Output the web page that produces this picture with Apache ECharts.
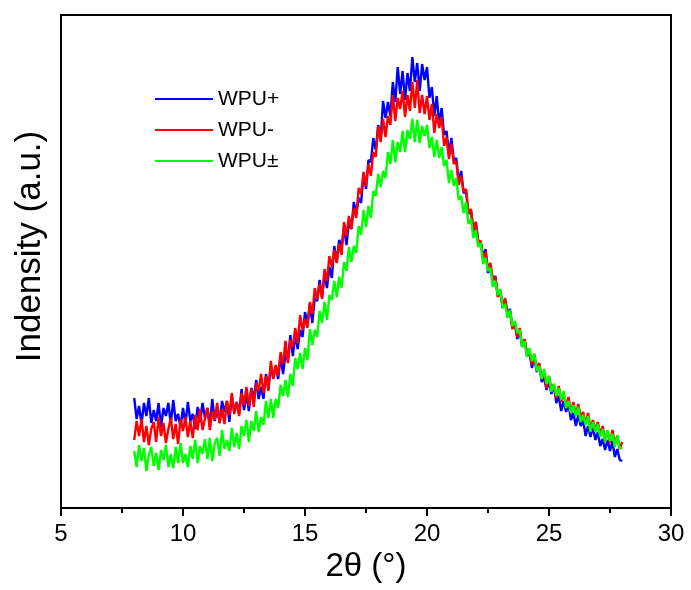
<!DOCTYPE html>
<html>
<head>
<meta charset="utf-8">
<script src="https://cdn.jsdelivr.net/npm/echarts@6/dist/echarts.min.js"></script>
<style>
html,body{margin:0;padding:0;background:#fff;}
#chart{width:691px;height:590px;}
</style>
</head>
<body>
<div id="chart"></div>
<script>
// 2θ sampling: 8.0 to 28.0 degrees in 0.1 degree steps
const thetaStart = 8.0;
const thetaStep = 0.1;
const seriesNames = ['WPU+', 'WPU-', 'WPU\u00b1'];
const xTicks = [5, 10, 15, 20, 25, 30];

const wpuPlus = [
110,89,102,84,105,92,110,85,98,87,
105,81,100,92,105,84,108,87,94,81,
100,84,106,87,94,79,101,86,105,90,
100,83,109,87,100,85,107,96,107,86,
112,96,106,94,119,98,113,97,120,109,
128,109,121,109,134,119,142,130,142,129,
152,134,154,148,173,152,173,159,178,171,
196,184,204,185,210,207,228,211,234,220,
241,230,262,246,268,261,281,263,286,279,
306,294,310,305,334,319,348,346,370,358,
383,369,407,390,406,392,426,406,441,414,
437,408,435,417,451,426,445,417,444,428,
441,410,421,392,412,383,400,373,377,354,
370,347,350,326,337,315,317,294,298,276,
286,267,266,251,259,235,242,228,232,213,
217,200,208,195,199,180,185,169,177,162,
168,152,156,140,150,136,144,126,130,118,
127,114,123,105,112,97,107,96,104,88,
95,82,93,82,88,72,82,71,81,68,
76,62,69,58,68,57,67,51,59,48,
47];

const wpuMinus = [
68,87,72,89,66,82,63,79,86,66,
91,72,85,65,79,90,69,84,64,89,
77,91,71,87,70,93,78,99,78,89,
100,78,97,88,105,85,99,84,107,93,
115,94,106,92,115,103,121,102,119,101,
125,117,134,115,132,117,147,129,143,132,
156,144,167,145,168,161,180,165,193,178,
189,180,206,194,220,209,224,209,239,227,
252,241,258,245,264,253,286,272,292,279,
300,290,320,314,336,322,344,332,356,351,
382,366,389,371,392,383,413,387,410,399,
417,391,413,397,426,400,428,395,413,394,
412,388,404,375,394,380,391,362,371,349,
364,344,347,323,332,316,319,295,299,278,
286,266,267,250,256,239,245,228,231,211,
217,202,210,193,197,179,184,171,180,161,
169,155,157,143,154,139,145,129,135,120,
132,119,124,110,122,106,114,103,111,95,
106,93,104,91,96,84,95,80,88,78,
86,74,82,68,76,65,78,64,72,59,
66];

const wpuPlusMinus = [
57,41,63,47,60,37,53,61,42,55,
38,58,48,63,41,54,40,61,45,65,
45,54,41,62,49,68,45,62,54,69,
49,70,47,65,70,52,78,59,68,57,
80,61,75,59,82,72,88,66,87,77,
97,76,91,83,107,90,109,90,109,100,
123,112,128,111,134,122,150,139,155,139,
160,148,179,163,178,171,197,185,206,188,
213,208,227,211,231,220,246,237,261,246,
262,255,282,273,298,281,302,290,317,312,
334,321,337,330,356,344,368,346,366,356,
377,356,378,369,389,366,388,365,382,372,
383,360,371,351,368,350,361,342,348,325,
338,322,330,308,312,295,306,284,289,270,
278,261,265,244,250,237,240,221,227,213,
219,200,204,190,198,182,187,175,178,161,
167,151,160,147,154,137,142,129,139,124,
132,116,124,112,120,108,117,100,107,95,
103,92,101,86,93,83,92,76,86,76,
84,71,79,66,78,67,74,61,73,60,
60];

const seriesValues = [wpuPlus, wpuMinus, wpuPlusMinus];
const seriesColors = ['#0000ff', '#ff0000', '#00ff00'];

function pairs(vals) {
  return vals.map((v, i) => [+(thetaStart + i * thetaStep).toFixed(1), v]);
}

const chart = echarts.init(document.getElementById('chart'), null, {renderer: 'canvas'});
const FONT = '"Liberation Sans", Arial, sans-serif';

chart.setOption({
  animation: false,
  backgroundColor: '#ffffff',
  grid: {
    left: 61, right: 20, top: 15, bottom: 82,
    show: true, borderColor: '#000', borderWidth: 2, backgroundColor: 'transparent'
  },
  legend: {
    orient: 'vertical',
    left: 150, top: 83,
    icon: 'rect',
    itemWidth: 58, itemHeight: 2,
    itemGap: 9,
    textStyle: {fontFamily: FONT, fontSize: 21, color: '#000', lineHeight: 22},
    data: seriesNames
  },
  xAxis: {
    type: 'value',
    min: xTicks[0], max: xTicks[xTicks.length - 1], interval: 5,
    name: '2\u03b8 (\u00b0)',
    nameLocation: 'middle', nameGap: 33,
    nameTextStyle: {fontFamily: FONT, fontSize: 33, color: '#000'},
    axisLine: {show: true, onZero: false, lineStyle: {color: '#000', width: 2}},
    axisTick: {show: true, inside: false, length: 8, lineStyle: {color: '#000', width: 2}},
    minorTick: {show: true, splitNumber: 2, length: 5, lineStyle: {color: '#000', width: 2}},
    axisLabel: {fontFamily: FONT, fontSize: 24, color: '#000', margin: 14},
    splitLine: {show: false}
  },
  yAxis: {
    type: 'value',
    min: 0, max: 493,
    name: 'Indensity (a.u.)',
    nameLocation: 'middle', nameGap: 13,
    nameTextStyle: {fontFamily: FONT, fontSize: 35, color: '#000', padding: [0, 0, 0, 30]},
    axisLine: {show: true, lineStyle: {color: '#000', width: 2}},
    axisTick: {show: false},
    axisLabel: {show: false},
    splitLine: {show: false}
  },
  series: seriesNames.map((name, k) => ({
    name: name,
    type: 'line',
    data: pairs(seriesValues[k]),
    showSymbol: false,
    symbol: 'none',
    color: seriesColors[k],
    lineStyle: {color: seriesColors[k], width: 2.4},
    z: 2 + k
  }))
});
</script>
</body>
</html>
